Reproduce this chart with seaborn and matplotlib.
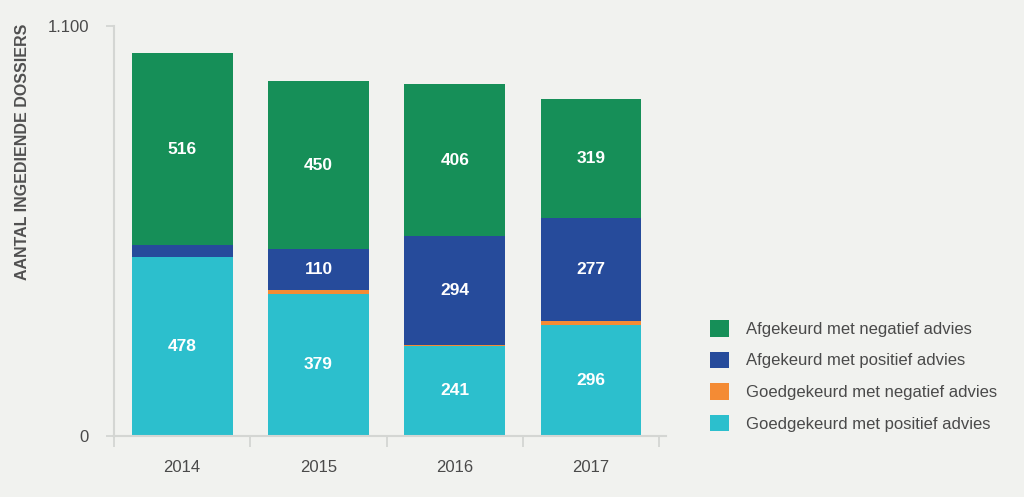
import pandas as pd
import numpy as np
import seaborn as sns
import matplotlib.pyplot as plt
import matplotlib.patches as mpatches

# data
jaren = ['2014', '2015', '2016', '2017']
goed_pos = [478, 379, 241, 296]   # Goedgekeurd met positief advies
goed_neg = [2, 11, 1, 10]         # Goedgekeurd met negatief advies
afg_pos = [30, 110, 294, 277]     # Afgekeurd met positief advies
afg_neg = [516, 450, 406, 319]    # Afgekeurd met negatief advies

reeksen = ['Afgekeurd met negatief advies', 'Afgekeurd met positief advies',
           'Goedgekeurd met negatief advies', 'Goedgekeurd met positief advies']
kleuren = ['#168F58', '#264B9B', '#F48B34', '#2CBFCD']

y_ticks = [0, 1100]
y_ticklabels = ['0', '1.100']

bg = '#F1F2EF'
as_kleur = '#D4D6D3'
tekst_kleur = '#4A4A4A'

sns.set_theme(style='white', rc={'figure.facecolor': bg, 'axes.facecolor': bg})
plt.rcParams['font.family'] = ['Liberation Sans', 'DejaVu Sans']

df = pd.DataFrame({'jaar': jaren, 'gp': goed_pos, 'gn': goed_neg,
                   'ap': afg_pos, 'an': afg_neg})
stapel = ['gp', 'gn', 'ap', 'an']  # bottom -> top
cum = df[stapel].cumsum(axis=1)
kleur_per_kolom = dict(zip(['an', 'ap', 'gn', 'gp'], kleuren))

fig = plt.figure(figsize=(10.24, 4.97), dpi=100)
ax = fig.add_axes([114 / 1024, 61.5 / 497, 552 / 1024, 410 / 497])

# draw cumulative totals, tallest first so lower segments sit on top
for col in reversed(stapel):
    sns.barplot(x=df['jaar'], y=cum[col], order=jaren, color=kleur_per_kolom[col],
                saturation=1, width=0.74, linewidth=0, ax=ax)

# value labels in the middle of each segment
for i in range(len(jaren)):
    onder = 0
    for col in stapel:
        v = df[col].iloc[i]
        if v >= 50:
            ax.text(i, onder + v / 2, str(v), ha='center', va='center',
                    color='white', fontsize=12.5, fontweight='bold')
        onder += v

ax.set_xlim(-0.5, 3.55)
ax.set_ylim(0, 1100)
ax.set_yticks(y_ticks)
ax.set_yticklabels(y_ticklabels)
ax.set_xticks(range(len(jaren)))
ax.set_xticklabels(jaren)
ax.set_xticks([-0.5, 0.5, 1.5, 2.5, 3.5], minor=True)
ax.set_xlabel('')

ax.tick_params(axis='x', which='major', length=0, pad=18, labelsize=12,
               labelcolor=tekst_kleur)
ax.tick_params(axis='x', which='minor', length=8, width=1.3, color=as_kleur,
               bottom=True)
ax.tick_params(axis='y', length=6, width=1.3, color=as_kleur, pad=12,
               labelsize=12, labelcolor=tekst_kleur, left=True)

sns.despine(ax=ax)
for s in ['left', 'bottom']:
    ax.spines[s].set_color(as_kleur)
    ax.spines[s].set_linewidth(1.5)

ax.set_ylabel('AANTAL INGEDIENDE DOSSIERS', fontsize=11.5, fontweight='bold',
              color='#505050', ha='center', va='center')
ax.yaxis.set_label_coords(-91 / 552, (435.5 - 151.5) / 410)

handles = [mpatches.Patch(facecolor=k, edgecolor='none', label=r)
           for r, k in zip(reeksen, kleuren)]
fig.legend(handles=handles, loc='upper left',
           bbox_to_anchor=(710 / 1024, 1 - 320 / 497),
           frameon=False, fontsize=12, labelcolor=tekst_kleur,
           handlelength=1.15, handleheight=1.15, handletextpad=1.0,
           labelspacing=0.88, borderpad=0, borderaxespad=0)

fig.savefig('out.png', dpi=100, facecolor=bg)
